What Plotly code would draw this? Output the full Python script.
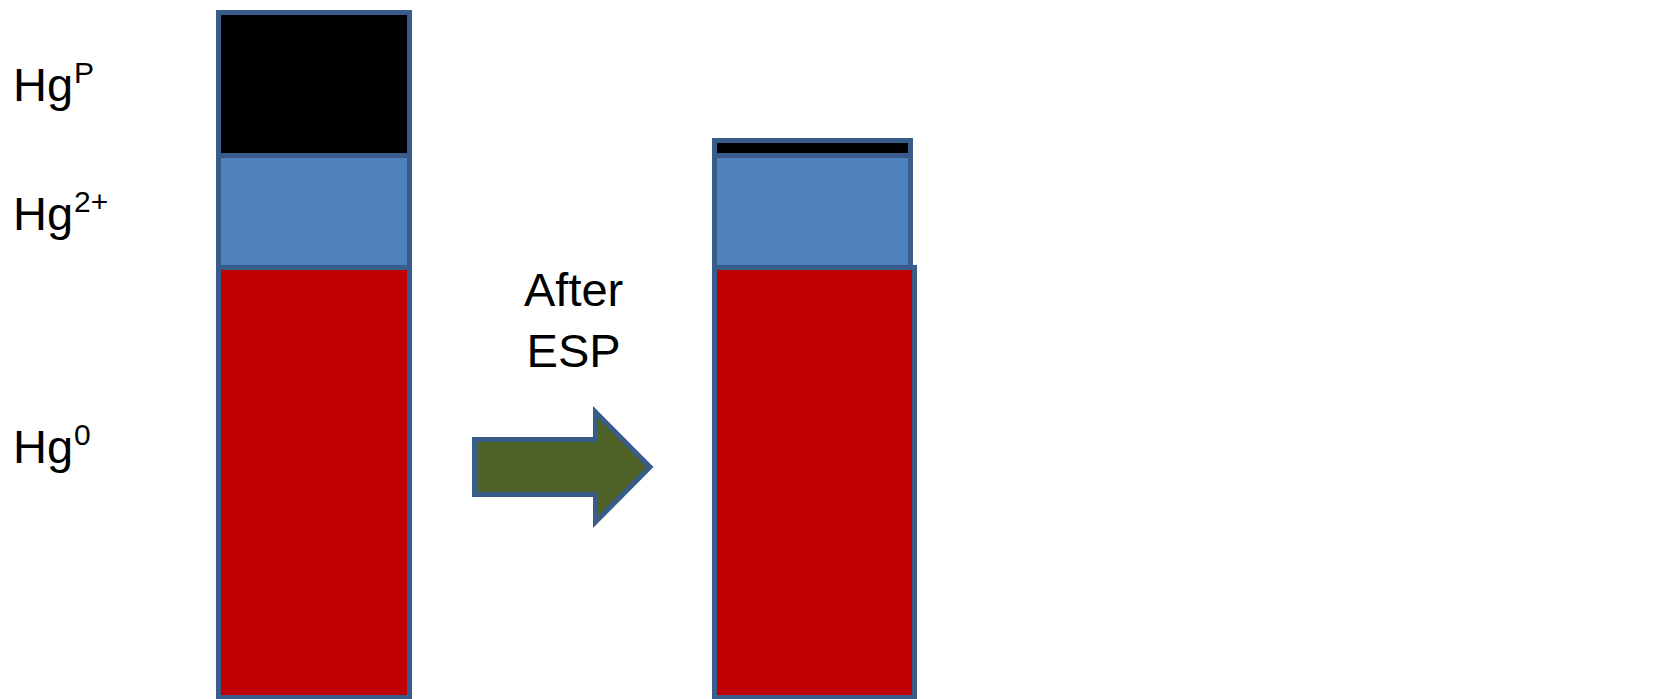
import plotly.graph_objects as go

# Mercury speciation before and after the ESP (relative units, inlet total = 100)
stages = ["Inlet", "After ESP"]
hg0 = [62.75, 62.75]
hg2 = [16.36, 16.3]
hgp = [20.89, 2.3]

species_base = ["Hg", "Hg", "Hg"]
species_sup = ["P", "2+", "0"]
arrow_label = "After<br>ESP"

W, H = 1665, 699
OUTLINE = "#385D8A"
FONT = "Liberation Sans, Arial, sans-serif"

bar_w = [0.383, 0.393]
bar_w_base = [0.383, 0.401]
offsets = [-w / 2 for w in bar_w]

fig = go.Figure()
fig.add_trace(go.Bar(x=stages, y=hg0, width=bar_w_base, offset=offsets,
                     marker=dict(color="#C00000", line=dict(color=OUTLINE, width=5))))
fig.add_trace(go.Bar(x=stages, y=hg2, width=bar_w, offset=offsets,
                     marker=dict(color="#4F81BD", line=dict(color=OUTLINE, width=5))))
fig.add_trace(go.Bar(x=stages, y=hgp, width=bar_w, offset=offsets,
                     marker=dict(color="#000000", line=dict(color=OUTLINE, width=5))))


def px(x, y):
    """Canvas pixel -> paper fraction."""
    return x / W, 1 - y / H


# process arrow between the two columns
pts = [(474.5, 439.5), (595.5, 439.5), (595.5, 412), (650, 467),
       (595.5, 522), (595.5, 494.5), (474.5, 494.5)]
path = "M " + " L ".join("%.5f,%.5f" % px(*p) for p in pts) + " Z"
shapes = [dict(type="path", xref="paper", yref="paper", path=path,
               fillcolor="#4F6228", line=dict(color=OUTLINE, width=5))]

annotations = []


def label(text, xpix, ypix, size, xanchor="left"):
    x0, y0 = px(xpix, ypix)
    annotations.append(dict(text=text, xref="paper", yref="paper", x=x0, y=y0,
                            xanchor=xanchor, yanchor="middle", showarrow=False,
                            borderpad=0, borderwidth=0,
                            font=dict(family=FONT, size=size, color="black")))


# species names with raised charge / phase marks
for base, sup, y_base in zip(species_base, species_sup, [84.7, 213.2, 446.7]):
    label(base, 12.5, y_base, 47)
    label(sup, 74, y_base - 12, 30)

label(arrow_label, 573, 320, 47, xanchor="center")

fig.update_layout(
    barmode="stack",
    width=W, height=H,
    margin=dict(l=0, r=0, t=0, b=0),
    paper_bgcolor="white", plot_bgcolor="white",
    showlegend=False,
    xaxis=dict(range=[-0.6299, 2.7101], visible=False),
    yaxis=dict(range=[-0.29, 101.83], visible=False),
    shapes=shapes,
    annotations=annotations,
)

fig.write_html("out.html")
